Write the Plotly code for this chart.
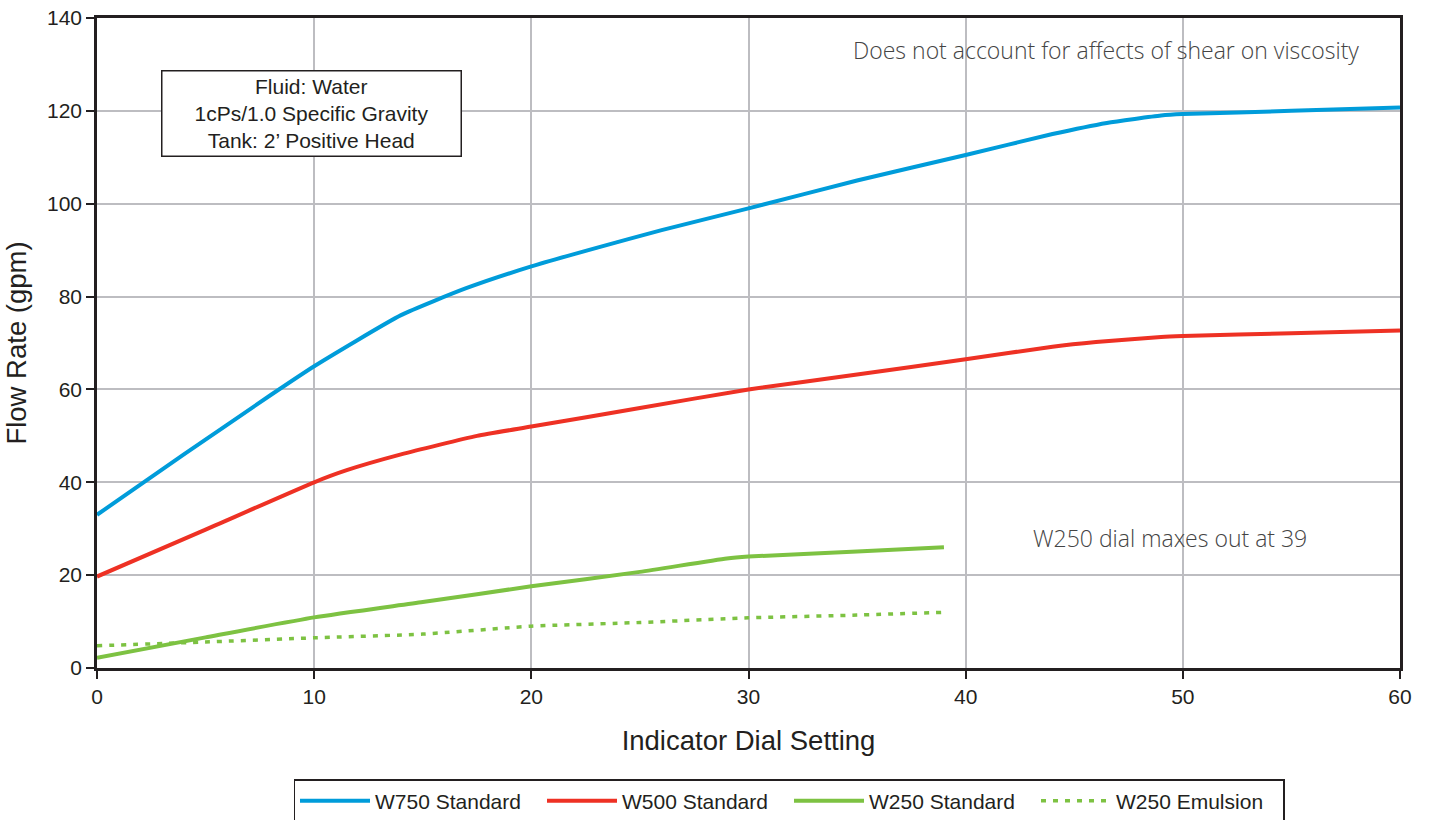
import plotly.graph_objects as go

# ---- data ----
w750_x = [0, 4, 8, 10, 14, 17, 20, 23, 26, 30, 35, 40, 44, 46.5, 49, 50, 55, 60]
w750_y = [33, 46, 58.8, 65, 76, 81.8, 86.5, 90.5, 94.3, 99, 105, 110.5, 115, 117.4, 119, 119.3, 120, 120.7]

w500_x = [0, 5, 10, 11.5, 14, 17.5, 20, 25, 30, 35, 40, 44, 46, 49, 50, 55, 60]
w500_y = [19.7, 29.8, 40, 42.6, 46, 50, 52, 56, 60, 63.2, 66.5, 69.2, 70.2, 71.3, 71.5, 72.1, 72.7]

w250_x = [0, 5, 10, 15, 20, 25, 29, 30, 35, 39]
w250_y = [2.2, 6.6, 10.9, 14.2, 17.6, 20.7, 23.6, 24, 25.1, 26]

w250e_x = [0, 5, 10, 15, 20, 25, 30, 35, 39]
w250e_y = [4.8, 5.6, 6.5, 7.3, 9.0, 9.8, 10.8, 11.4, 12]

x_ticks = [0, 10, 20, 30, 40, 50, 60]
y_ticks = [0, 20, 40, 60, 80, 100, 120, 140]

BLUE = "#009CDA"
RED = "#EE3124"
GREEN = "#7DC242"
FONT = "Liberation Sans, Arial, sans-serif"
TEXT = "#231F20"

fig = go.Figure()
fig.add_trace(go.Scatter(x=w750_x, y=w750_y, mode="lines", name="W750 Standard",
                         line=dict(color=BLUE, width=4, shape="spline", smoothing=0.5)))
fig.add_trace(go.Scatter(x=w500_x, y=w500_y, mode="lines", name="W500 Standard",
                         line=dict(color=RED, width=4, shape="spline", smoothing=0.5)))
fig.add_trace(go.Scatter(x=w250_x, y=w250_y, mode="lines", name="W250 Standard",
                         line=dict(color=GREEN, width=4, shape="spline", smoothing=0.5)))
fig.add_trace(go.Scatter(x=w250e_x, y=w250e_y, mode="lines", name="W250 Emulsion",
                         line=dict(color=GREEN, width=3.5, dash="5px,7px", shape="spline", smoothing=0.5)))

# plot area target: x 97..1400, y 18..668 (page body margin removed below)
fig.update_layout(
    width=1429, height=820,
    margin=dict(l=97, r=29, t=18, b=152, autoexpand=False),
    paper_bgcolor="white", plot_bgcolor="white",
    font=dict(family=FONT, size=21, color=TEXT),
    showlegend=True,
    legend=dict(orientation="h", x=(789 - 97) / 1303, xanchor="center",
                y=-(801 - 668) / 650, yanchor="middle",
                bordercolor="#231F20", borderwidth=1.5, font=dict(size=21, family=FONT, color=TEXT),
                itemwidth=70, entrywidth=162, entrywidthmode="pixels"),
    xaxis=dict(range=[0, 60], tickvals=x_ticks, showgrid=True, gridcolor="#BDBDC1", gridwidth=2,
               showline=True, linecolor="#231F20", linewidth=2.5, mirror=True, automargin=False,
               ticks="outside", ticklen=8, tickwidth=2, tickcolor="#231F20",
               tickfont=dict(size=21, family=FONT, color=TEXT), zeroline=False,
               ticklabeloverflow="allow",
               title=dict(text="Indicator Dial Setting", font=dict(size=27.5, family=FONT, color=TEXT), standoff=24)),
    yaxis=dict(range=[0, 140], tickvals=y_ticks, showgrid=True, gridcolor="#BDBDC1", gridwidth=2,
               showline=True, linecolor="#231F20", linewidth=2.5, mirror=True, automargin=False,
               ticks="outside", ticklen=8, tickwidth=2, tickcolor="#231F20",
               tickfont=dict(size=21, family=FONT, color=TEXT), zeroline=False,
               ticklabeloverflow="allow",
               title=dict(text="Flow Rate (gpm)", font=dict(size=27.5, family=FONT, color=TEXT), standoff=13)),
)

fig.add_annotation(xref="paper", yref="paper", x=(311.5 - 97) / 1303, y=(668 - 113) / 650,
                   xanchor="center", yanchor="middle",
                   text="Fluid: Water<br>1cPs/1.0 Specific Gravity<br>Tank: 2\u2019 Positive Head",
                   showarrow=False, align="center", bgcolor="white", bordercolor="#231F20",
                   borderwidth=1.5, borderpad=1, width=296, height=82,
                   font=dict(size=21, family=FONT, color=TEXT))
fig.add_annotation(xref="paper", yref="paper", x=(1105.5 - 97) / 1303, y=(668 - 50) / 650,
                   xanchor="center", yanchor="middle",
                   text="Does not account for affects of shear on viscosity", showarrow=False,
                   font=dict(size=23, family="Open Sans, sans-serif", color="#444444", weight=300))
fig.add_annotation(xref="paper", yref="paper", x=(1170 - 97) / 1303, y=(668 - 538) / 650,
                   xanchor="center", yanchor="middle",
                   text="W250 dial maxes out at 39", showarrow=False,
                   font=dict(size=23, family="Open Sans, sans-serif", color="#444444", weight=300))

fig.write_html("out.html", config={"displayModeBar": False},
               post_script="document.body.style.margin='0';")
